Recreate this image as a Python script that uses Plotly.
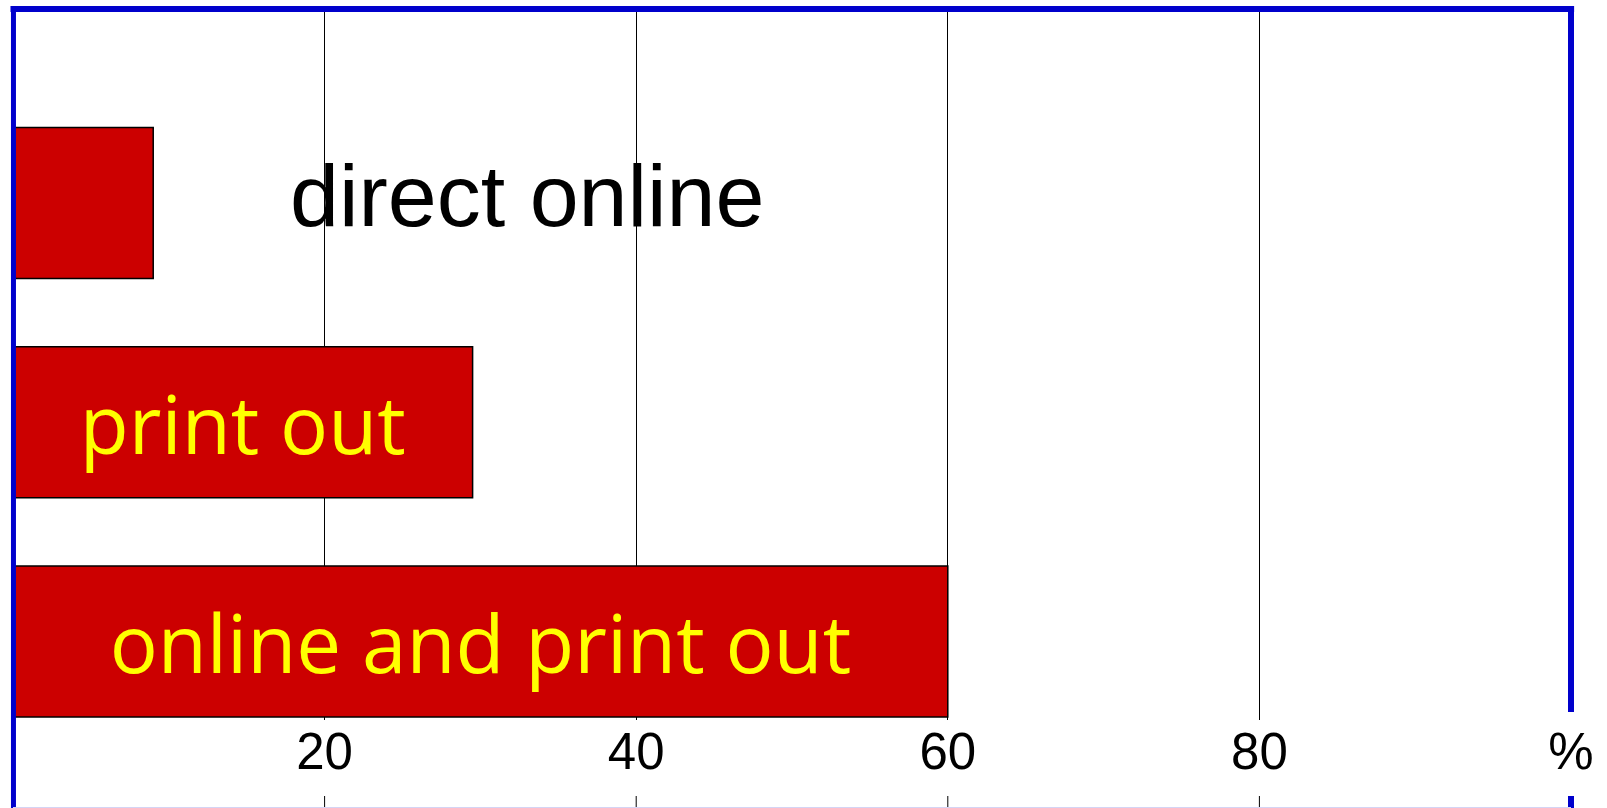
import plotly.graph_objects as go

# ---- data ----
categories = ["direct online", "print out", "online and print out"]
values = [9, 29.5, 60]                       # percent
bar_labels = ["", "print out", "online and print out"]  # labels drawn inside the bars
outside_label = "direct online"              # label drawn beside the short bar
tick_values = [20, 40, 60, 80, 100]
tick_labels = ["20", "40", "60", "80", "%"]
minor_tick_values = [20, 40, 60, 80]

W, H = 1607, 808
BLUE = "#0000CC"
RED = "#CC0000"

fig = go.Figure()
fig.add_trace(go.Bar(
    x=values,
    y=categories,
    orientation="h",
    width=0.689,
    marker=dict(color=RED, line=dict(color="black", width=1.5)),
    text=bar_labels,
    textposition="inside",
    insidetextanchor="middle",
    constraintext="none",
    textfont=dict(family="Open Sans", size=80, color="#FFFF00"),
    hoverinfo="skip",
    showlegend=False,
))

# label of the short bar, placed beside it
fig.add_annotation(
    x=33, y=categories[0], xref="x", yref="y",
    text=outside_label, showarrow=False,
    xanchor="center", yanchor="middle", yshift=8,
    font=dict(family="Liberation Sans", size=88, color="black"),
)

ml, mr, mt, mb = 13, 36, 9, 0
plot_h = H - mt - mb
y_bottom_px = 720
ydom0 = (H - y_bottom_px) / plot_h

fig.update_layout(
    width=W, height=H,
    margin=dict(l=ml, r=mr, t=mt, b=mb, pad=0),
    paper_bgcolor="white", plot_bgcolor="white",
    bargap=0.3,
    xaxis=dict(
        range=[0, 100], tickvals=tick_values, ticktext=tick_labels,
        showgrid=True, gridcolor="black", gridwidth=1,
        zeroline=False, showline=False, ticks="",
        tickfont=dict(family="Liberation Sans", size=51, color="black"),
        ticklabelstandoff=-3,
        anchor="y",
    ),
    yaxis=dict(
        domain=[ydom0, 1],
        type="category", categoryorder="array", categoryarray=categories,
        range=[2.358, -0.885],
        showgrid=False, zeroline=False, showline=False,
        showticklabels=False, ticks="",
    ),
    hovermode=False,
)

def paper_y(px):
    return (H - mb - px) / plot_h

# short tick marks at the very bottom, below the tick labels
for v in minor_tick_values:
    fig.add_shape(type="line", xref="x", yref="paper", x0=v, x1=v,
                  y0=paper_y(808), y1=paper_y(796),
                  line=dict(color="black", width=1), layer="above")

# blue frame (paper coordinates)
frame = dict(type="line", xref="paper", yref="paper", layer="above")
fig.add_shape(**frame, x0=-0.0016, x1=1.002, y0=1, y1=1, line=dict(color=BLUE, width=6))
fig.add_shape(**frame, x0=0.0003, x1=0.0003, y0=-0.01, y1=paper_y(6), line=dict(color=BLUE, width=5))
fig.add_shape(**frame, x0=1, x1=1, y0=paper_y(712), y1=paper_y(6), line=dict(color=BLUE, width=6))
fig.add_shape(**frame, x0=1, x1=1, y0=-0.01, y1=paper_y(796), line=dict(color=BLUE, width=6))
fig.add_shape(**frame, x0=0, x1=1, y0=paper_y(807.5), y1=paper_y(807.5), line=dict(color="#d4d4f4", width=1))

fig.write_html(
    "out.html",
    config={"displayModeBar": False},
    post_script="document.body.style.margin='0';document.body.style.overflow='hidden';",
)
